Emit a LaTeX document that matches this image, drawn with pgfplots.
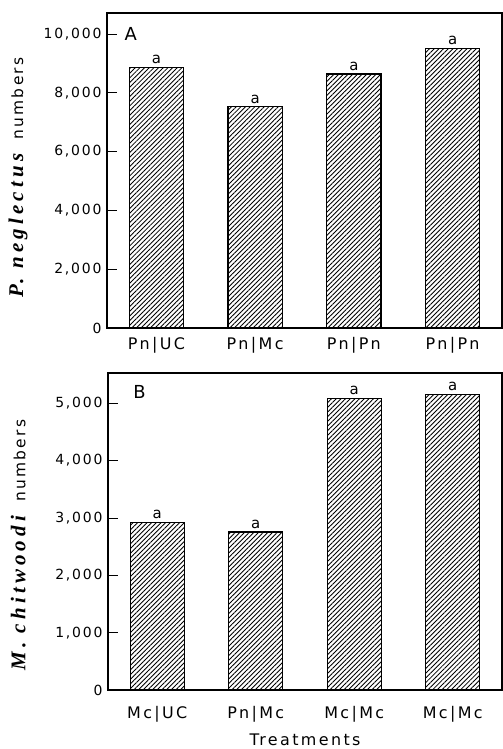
\documentclass[border=0pt]{standalone}
\usepackage{fontspec}
\setmainfont{DejaVu Sans}[LetterSpace=13]
\newfontfamily\spfont{Liberation Serif}[LetterSpace=20]
\newfontfamily\xfont{DejaVu Sans}[LetterSpace=15]
\usepackage{pgfplots}
\pgfplotsset{compat=1.18}
\usetikzlibrary{patterns.meta}

\newcommand{\species}[1]{{\spfont\fontsize{21}{22}\selectfont\bfseries\itshape #1}}
\newcommand{\nums}{{\xfont\fontsize{15.5}{17}\selectfont numbers}}

\pgfplotsset{
  panel/.style={
    scale only axis,
    anchor=south west,
    ybar,
    bar width=0.55,
    xmin=-0.5, xmax=3.5,
    ymin=0,
    xtick=data,
    x tick style={draw=none},
    ytick pos=left,
    major tick length=10bp,
    tick style={line width=0.9bp, black},
    axis line style={line width=1.2bp},
    clip=false,
    /pgf/number format/assume math mode=true,
    /pgf/number format/1000 sep={,},
    scaled y ticks=false,
    yticklabel style={font=\fontsize{14}{16}\selectfont, xshift=-2bp},
    xticklabel style={font=\xfont\fontsize{16}{17}\selectfont},
    nodes near coords={a},
    nodes near coords style={font=\fontsize{15}{16}\selectfont, anchor=south, inner sep=1bp, yshift=2bp},
  },
  hatched/.style={
    draw=black, line width=1.1bp,
    pattern={Lines[angle=45, distance=3.3bp, line width=0.85bp]},
  },
}

\begin{document}
\begin{tikzpicture}
% panel A
\begin{axis}[panel,
  at={(107bp,421bp)},
  width=395bp, height=315bp,
  ymax=10714,
  ytick={0,2000,4000,6000,8000,10000},
  xticklabels={Pn|UC,Pn|Mc,Pn|Pn,Pn|Pn},
  xticklabel style={yshift=4bp},
]
\addplot[hatched] coordinates {(0,8870) (1,7520) (2,8640) (3,9520)};
\node[font=\fontsize{18}{18}\selectfont, anchor=center] at (axis description cs:0.06,0.935) {A};
\node[rotate=90, anchor=center, inner sep=0pt] at (axis description cs:-0.225,0.478) {\species{P. neglectus}\hspace{14bp}\nums};
\end{axis}
% panel B
\begin{axis}[panel,
  at={(108bp,59bp)},
  width=394bp, height=317bp,
  ymax=5528,
  ytick={0,1000,2000,3000,4000,5000},
  xticklabels={Mc|UC,Pn|Mc,Mc|Mc,Mc|Mc},
  xticklabel style={yshift=-3bp},
  xlabel={Treatments},
  xlabel style={at={(axis description cs:0.5,-0.158)}, anchor=center, font=\xfont\fontsize{16}{17}\selectfont},
]
\addplot[hatched] coordinates {(0,2920) (1,2755) (2,5090) (3,5160)};
\node[font=\fontsize{18}{18}\selectfont, anchor=center] at (axis description cs:0.08,0.94) {B};
\node[rotate=90, anchor=center, inner sep=0pt] at (axis description cs:-0.228,0.457) {\species{M. chitwoodi}\hspace{14bp}\nums};
\end{axis}
\pgfresetboundingbox
\path[use as bounding box] (0,0) rectangle (503bp,749bp);
\end{tikzpicture}
\end{document}
